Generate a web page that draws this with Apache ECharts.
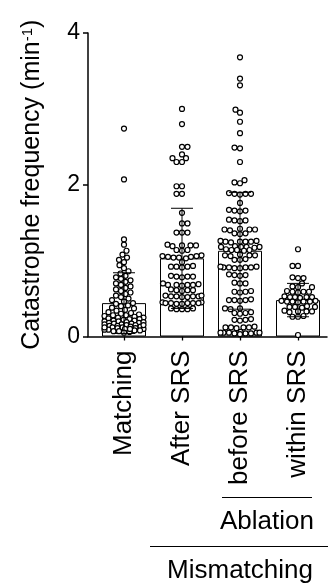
<!DOCTYPE html>
<html><head><meta charset="utf-8">
<script src="https://cdn.jsdelivr.net/npm/echarts@6/dist/echarts.min.js"></script>
<style>html,body{margin:0;padding:0;background:#fff}#c{width:328px;height:585px}</style>
</head><body><div id="c"></div>
<script>
const categories = ['Matching', 'After SRS', 'before SRS', 'within SRS'];
const yTicks = [0, 2, 4];
const means = [0.44, 1.03, 1.13, 0.48];
const sds = [0.40, 0.66, 0.77, 0.22];
const matching = [2.74, 2.07, 1.28, 1.21, 1.13, 1.08, 1.04, 1.01, 0.98, 0.94, 0.9, 0.86, 0.83, 0.8, 0.78, 0.76, 0.74, 0.72, 0.7, 0.68, 0.66, 0.64, 0.62, 0.6, 0.58, 0.56, 0.54, 0.52, 0.5, 0.48, 0.46, 0.44, 0.43, 0.41, 0.4, 0.38, 0.37, 0.35, 0.34, 0.32, 0.31, 0.3, 0.29, 0.28, 0.28, 0.27, 0.26, 0.25, 0.25, 0.24, 0.23, 0.23, 0.22, 0.21, 0.21, 0.2, 0.2, 0.19, 0.18, 0.18, 0.17, 0.17, 0.16, 0.16, 0.15, 0.15, 0.14, 0.14, 0.13, 0.13, 0.12, 0.12, 0.11, 0.11, 0.1, 0.1, 0.09, 0.09, 0.08, 0.08, 0.07, 0.07, 0.06, 0.05, 0.19, 0.15, 0.12, 0.1];
const afterSRS = [3.0, 2.8, 2.5, 2.5, 2.4, 2.35, 2.35, 2.3, 2.3, 1.98, 1.98, 1.88, 1.88, 1.63, 1.49, 1.49, 1.37, 1.37, 1.37, 1.2, 1.2, 1.2, 1.21, 1.19, 1.14, 1.14, 1.13, 1.07, 1.06, 1.05, 1.05, 1.04, 1.04, 1.03, 1.06, 0.98, 0.92, 0.92, 0.91, 0.93, 0.92, 0.8, 0.79, 0.79, 0.78, 0.79, 0.68, 0.68, 0.69, 0.67, 0.68, 0.68, 0.7, 0.61, 0.61, 0.62, 0.6, 0.61, 0.53, 0.53, 0.54, 0.52, 0.53, 0.53, 0.54, 0.52, 0.44, 0.44, 0.45, 0.43, 0.44, 0.44, 0.45, 0.43, 0.44, 0.36, 0.37, 0.36, 0.36, 0.37];
const beforeSRS = [3.68, 3.40, 3.31, 2.99, 2.95, 2.83, 2.68, 2.49, 2.48, 2.30, 2.06, 2.03, 2.02, 1.89, 1.88, 1.88, 1.87, 1.88, 1.76, 1.66, 1.66, 1.67, 1.65, 1.53, 1.53, 1.54, 1.52, 1.41, 1.41, 1.42, 1.40, 1.41, 1.36, 1.36, 1.35, 1.25, 1.25, 1.26, 1.24, 1.25, 1.25, 1.26, 1.18, 1.18, 1.19, 1.17, 1.18, 1.18, 1.14, 1.14, 1.13, 1.14, 1.15, 1.07, 1.07, 1.08, 1.06, 1.07, 1.01, 1.01, 1.02, 0.91, 0.91, 0.92, 0.90, 0.91, 0.91, 0.92, 0.90, 0.81, 0.81, 0.82, 0.80, 0.70, 0.70, 0.71, 0.59, 0.59, 0.60, 0.58, 0.48, 0.48, 0.49, 0.47, 0.48, 0.37, 0.37, 0.36, 0.31, 0.31, 0.32, 0.30, 0.22, 0.22, 0.23, 0.21, 0.12, 0.12, 0.13, 0.11, 0.12, 0.12, 0.05, 0.05, 0.04, 0.05, 0.06, 0.04, 0.05, 0.03, 0.05, 0.04];
const withinSRS = [1.15, 0.93, 0.93, 0.77, 0.77, 0.78, 0.70, 0.65, 0.65, 0.66, 0.59, 0.59, 0.60, 0.58, 0.59, 0.52, 0.52, 0.53, 0.51, 0.52, 0.52, 0.46, 0.46, 0.47, 0.45, 0.46, 0.46, 0.47, 0.39, 0.39, 0.40, 0.38, 0.39, 0.33, 0.33, 0.34, 0.32, 0.33, 0.26, 0.26, 0.27, 0.02];
const groups = [matching, afterSRS, beforeSRS, withinSRS];
const subGroupLabel = 'Ablation';
const groupLabel = 'Mismatching';

const FONT = 'Liberation Sans, Arial, Helvetica, sans-serif';
const chart = echarts.init(document.getElementById('c'), null, {renderer: 'canvas'});

const option = {
  animation: false,
  backgroundColor: '#fff',
  grid: [
    {left: 95, right: 1, top: 33, bottom: 248.5},
    {left: 88, right: 1, top: 33, bottom: 248.5}
  ],
  xAxis: [
    {type: 'category', gridIndex: 0, data: categories,
     axisLine: {show: false},
     axisTick: {show: true, alignWithLabel: true, length: 4, lineStyle: {color: '#000', width: 1.3}},
     axisLabel: {rotate: 90, margin: 14, fontSize: 26, color: '#000', fontFamily: FONT}},
    {type: 'value', gridIndex: 0, min: -0.5, max: 3.5, show: false},
    {type: 'value', gridIndex: 1, min: 0, max: 1,
     axisLine: {show: true, onZero: false, lineStyle: {color: '#000', width: 1.5}},
     axisTick: {show: false}, axisLabel: {show: false}, splitLine: {show: false}}
  ],
  yAxis: [
    {type: 'value', gridIndex: 0, min: yTicks[0], max: yTicks[yTicks.length - 1], interval: 2, offset: 7,
     axisLine: {show: true, onZero: false, lineStyle: {color: '#000', width: 1.5}},
     axisTick: {show: true, length: 5, lineStyle: {color: '#000', width: 1.5}},
     axisLabel: {fontSize: 23, color: '#000', margin: 8, fontFamily: FONT},
     splitLine: {show: false},
     name: 'Catastrophe frequency (min{s|-1})', nameLocation: 'middle', nameGap: 43, nameRotate: 90,
     nameTextStyle: {fontSize: 25, color: '#000', fontFamily: FONT,
       rich: {s: {fontSize: 15, color: '#000', fontFamily: FONT, verticalAlign: 'top'}}}},
    {type: 'value', gridIndex: 1, min: 0, max: 1, show: false}
  ],
  series: [
    {type: 'bar', xAxisIndex: 0, yAxisIndex: 0, barWidth: 44, data: means,
     itemStyle: {color: '#fff', borderColor: '#000', borderWidth: 1}, z: 1},
    {type: 'scatter', xAxisIndex: 1, yAxisIndex: 0, data: [], symbol: 'circle', symbolSize: 5,
     itemStyle: {color: '#fff', borderColor: '#000', borderWidth: 1.2, opacity: 1}, z: 2},
    {type: 'custom', xAxisIndex: 0, yAxisIndex: 0, z: 3,
     data: categories.map((c, i) => [i, means[i] - sds[i], means[i] + sds[i]]),
     renderItem: function (params, api) {
       const i = api.value(0);
       const lo = api.coord([i, api.value(1)]);
       const hi = api.coord([i, api.value(2)]);
       const half = 11;
       const st = {stroke: '#000', lineWidth: 1};
       return {type: 'group', children: [
         {type: 'line', shape: {x1: hi[0], y1: hi[1], x2: lo[0], y2: lo[1]}, style: st},
         {type: 'line', shape: {x1: hi[0] - half, y1: hi[1], x2: hi[0] + half, y2: hi[1]}, style: st},
         {type: 'line', shape: {x1: lo[0] - half, y1: lo[1], x2: lo[0] + half, y2: lo[1]}, style: st}
       ]};
     }}
  ],
  graphic: [
    {type: 'line', shape: {x1: 222, y1: 497.5, x2: 312, y2: 497.5}, style: {stroke: '#000', lineWidth: 1.2}},
    {type: 'text', x: 267, y: 522, style: {text: subGroupLabel, fontSize: 26, fontFamily: FONT, fill: '#000', textAlign: 'center', textVerticalAlign: 'middle'}},
    {type: 'line', shape: {x1: 150, y1: 546.5, x2: 328, y2: 546.5}, style: {stroke: '#000', lineWidth: 1.2}},
    {type: 'text', x: 240, y: 571, style: {text: groupLabel, fontSize: 26, fontFamily: FONT, fill: '#000', textAlign: 'center', textVerticalAlign: 'middle'}}
  ]
};
chart.setOption(option);

// beeswarm layout in pixel space (limited to the bar width), converted back through the axes
const pxPerUnit = chart.convertToPixel({yAxisIndex: 0}, 0) - chart.convertToPixel({yAxisIndex: 0}, 1);
const pxPerCat = chart.convertToPixel({xAxisIndex: 1}, 1) - chart.convertToPixel({xAxisIndex: 1}, 0);
const D = 5.2;
const MAXHALF = 19.5;
function swarm(vals) {
  const order = vals.map((v, i) => i).sort((a, b) => vals[a] - vals[b]);
  const placed = [];
  const out = new Array(vals.length);
  order.forEach((idx, n) => {
    const y = vals[idx] * pxPerUnit;
    const sign = (n % 2 === 0) ? 1 : -1;
    let best = 0, bestScore = Infinity;
    for (let k = 0; k < 400; k++) {
      const cand = (k % 2 === 0 ? sign : -sign) * Math.ceil(k / 2) * 0.5;
      if (Math.abs(cand) > MAXHALF) break;
      let score = 0;
      for (const p of placed) {
        const ddy = p.y - y;
        if (Math.abs(ddy) >= D) continue;
        const ddx = p.x - cand;
        const dist = Math.sqrt(ddx * ddx + ddy * ddy);
        if (dist < D) score += (D - dist);
      }
      if (score === 0) { best = cand; bestScore = 0; break; }
      if (score < bestScore - 1e-9) { bestScore = score; best = cand; }
    }
    placed.push({x: best, y: y});
    out[idx] = best;
  });
  return out;
}
const pts = [];
groups.forEach((vals, gi) => {
  const offs = swarm(vals);
  vals.forEach((v, j) => pts.push([gi + offs[j] / pxPerCat, v]));
});
chart.setOption({series: [{}, {data: pts}, {}]});
</script></body></html>
